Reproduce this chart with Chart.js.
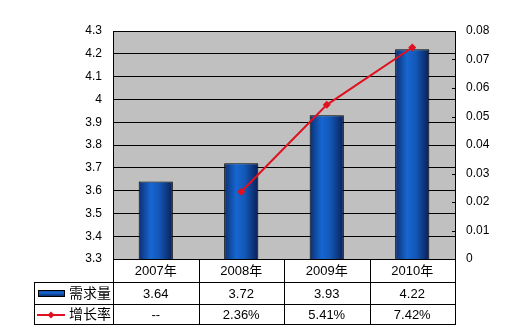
<!DOCTYPE html>
<html>
<head>
<meta charset="utf-8">
<script src="https://cdn.jsdelivr.net/npm/chart.js@4/dist/chart.umd.min.js"></script>
<style>
  html, body { margin: 0; padding: 0; background: #fff; }
  #wrap { width: 507px; height: 336px; }
</style>
</head>
<body>
<div id="wrap"><canvas id="myChart" width="507" height="336"></canvas></div>
<script>
var categories = ["2007年", "2008年", "2009年", "2010年"];
var demand = [3.64, 3.72, 3.93, 4.22];
var growth = [null, 0.0236, 0.0541, 0.0742];
var demandLabels = ["3.64", "3.72", "3.93", "4.22"];
var growthLabels = ["--", "2.36%", "5.41%", "7.42%"];
var seriesNames = ["需求量", "增长率"];

var FONT = "'Liberation Sans', Arial, 'Noto Sans CJK SC', sans-serif";

function barGradient(context) {
  var chart = context.chart;
  var xs = chart.scales.x;
  if (!chart.chartArea || !xs) return "#1560c8";
  var i = context.dataIndex;
  var cx = xs.getPixelForValue(i);
  var w = xs.width / categories.length * 0.4;
  var g = chart.ctx.createLinearGradient(cx - w / 2, 0, cx + w / 2, 0);
  g.addColorStop(0, "#0b2f72");
  g.addColorStop(0.35, "#1766d0");
  g.addColorStop(0.6, "#1358b8");
  g.addColorStop(1, "#0a1f55");
  return g;
}

// gray plot background
var plotBg = {
  id: "plotBg",
  beforeDraw: function (chart) {
    var a = chart.chartArea;
    var ctx = chart.ctx;
    ctx.save();
    ctx.fillStyle = "#c0c0c0";
    ctx.fillRect(a.left, a.top, a.right - a.left, a.bottom - a.top);
    ctx.restore();
  }
};

// data table under the plot
var dataTable = {
  id: "dataTable",
  afterDraw: function (chart) {
    var a = chart.chartArea;
    var ctx = chart.ctx;
    var xs = chart.scales.x;
    var y1 = chart.scales.y1;
    var colW = (a.right - a.left) / categories.length;
    var rows = [a.bottom, a.bottom + 23, a.bottom + 45, a.bottom + 65];
    var tableLeft = 34;
    ctx.save();
    ctx.strokeStyle = "#000";
    ctx.lineWidth = 1;
    ctx.beginPath();
    // verticals
    for (var k = 0; k <= categories.length; k++) {
      var x = Math.round(a.left + k * colW) + 0.5;
      ctx.moveTo(x, rows[0]);
      ctx.lineTo(x, rows[3]);
    }
    ctx.moveTo(tableLeft + 0.5, rows[1]);
    ctx.lineTo(tableLeft + 0.5, rows[3]);
    // horizontals
    for (var r = 1; r < rows.length; r++) {
      ctx.moveTo(tableLeft, rows[r] + 0.5);
      ctx.lineTo(a.right + 1, rows[r] + 0.5);
    }
    // right axis small ticks
    y1.ticks.forEach(function (t) {
      var yy = Math.round(y1.getPixelForValue(t.value)) + 0.5;
      ctx.moveTo(a.right - 3, yy);
      ctx.lineTo(a.right + 1, yy);
    });
    ctx.stroke();

    ctx.fillStyle = "#000";
    ctx.font = "13px " + FONT;
    ctx.textAlign = "center";
    ctx.textBaseline = "middle";
    for (var i = 0; i < categories.length; i++) {
      var cx = xs.getPixelForValue(i);
      ctx.fillText(categories[i], cx, (rows[0] + rows[1]) / 2 + 1);
      ctx.fillText(demandLabels[i], cx, (rows[1] + rows[2]) / 2 + 1);
      ctx.fillText(growthLabels[i], cx, (rows[2] + rows[3]) / 2 + 1);
    }

    // legend keys
    var ry1 = (rows[1] + rows[2]) / 2;
    var ry2 = (rows[2] + rows[3]) / 2;
    var g = ctx.createLinearGradient(0, ry1 - 4, 0, ry1 + 4);
    g.addColorStop(0, "#0b2f72");
    g.addColorStop(0.45, "#1766d0");
    g.addColorStop(1, "#0a1f55");
    ctx.fillStyle = g;
    ctx.fillRect(38, ry1 - 3, 27, 7);
    ctx.strokeStyle = "#000";
    ctx.strokeRect(38.5, ry1 - 2.5, 26, 6);

    ctx.strokeStyle = "#e0101e";
    ctx.lineWidth = 2;
    ctx.beginPath();
    ctx.moveTo(37, ry2 + 1);
    ctx.lineTo(65, ry2 + 1);
    ctx.stroke();
    ctx.fillStyle = "#e0101e";
    ctx.beginPath();
    ctx.moveTo(51, ry2 - 2.5);
    ctx.lineTo(54.5, ry2 + 1);
    ctx.lineTo(51, ry2 + 4.5);
    ctx.lineTo(47.5, ry2 + 1);
    ctx.closePath();
    ctx.fill();

    ctx.fillStyle = "#000";
    ctx.textAlign = "left";
    ctx.font = "14px " + FONT;
    ctx.fillText(seriesNames[0], 69, ry1 + 1);
    ctx.fillText(seriesNames[1], 69, ry2 + 1);
    ctx.restore();
  }
};

var ctx = document.getElementById("myChart").getContext("2d");
var myChart = new Chart(ctx, {
  data: {
    labels: categories,
    datasets: [
      {
        type: "line",
        label: seriesNames[1],
        data: growth,
        yAxisID: "y1",
        borderColor: "#e0101e",
        backgroundColor: "#e0101e",
        borderWidth: 2,
        pointStyle: "rectRot",
        pointRadius: 4,
        pointBorderWidth: 0,
        tension: 0,
        order: 0
      },
      {
        type: "bar",
        label: seriesNames[0],
        data: demand,
        yAxisID: "y",
        backgroundColor: barGradient,
        borderColor: "#000",
        borderWidth: 1,
        barPercentage: 0.4,
        categoryPercentage: 1,
        order: 1
      }
    ]
  },
  options: {
    responsive: false,
    animation: false,
    layout: { padding: { top: 31, bottom: 77, left: 0, right: 0 } },
    plugins: {
      legend: { display: false },
      tooltip: { enabled: false }
    },
    scales: {
      x: {
        display: false,
        offset: true
      },
      y: {
        position: "left",
        min: 3.3,
        max: 4.3,
        afterFit: function (scale) { scale.width = 113; },
        ticks: {
          stepSize: 0.1,
          padding: 11,
          color: "#000",
          font: { size: 12, family: FONT },
          callback: function (v) { return String(parseFloat(v.toFixed(2))); }
        },
        grid: { color: "#000", lineWidth: 1, drawTicks: false },
        border: { display: true, color: "#000" }
      },
      y1: {
        position: "right",
        min: 0,
        max: 0.08,
        afterFit: function (scale) { scale.width = 52; },
        ticks: {
          stepSize: 0.01,
          padding: 11,
          color: "#000",
          font: { size: 12, family: FONT },
          callback: function (v) { return String(parseFloat(v.toFixed(2))); }
        },
        grid: { drawOnChartArea: false, drawTicks: false },
        border: { display: true, color: "#000" }
      }
    }
  },
  plugins: [plotBg, dataTable]
});
</script>
</body>
</html>
